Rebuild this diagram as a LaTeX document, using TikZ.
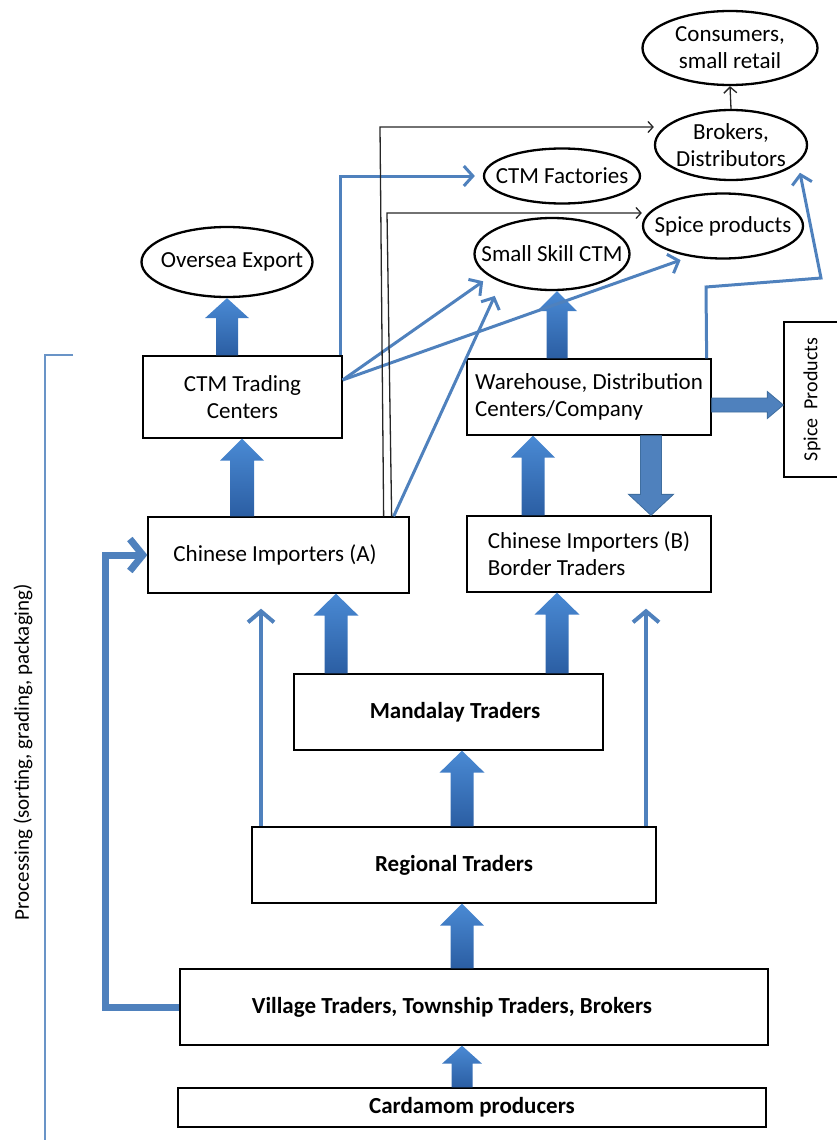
\documentclass[tikz,border=0pt]{standalone}
\usepackage{fontspec}
\usepackage{graphicx}
\setmainfont{Carlito}
\frenchspacing
\usetikzlibrary{shapes.geometric,arrows.meta,calc}
\definecolor{ofblue}{HTML}{4F81BD}
\definecolor{blkl}{HTML}{4A8AD4}
\definecolor{blkd}{HTML}{2B5EA3}
\definecolor{flatline}{HTML}{3F6E9F}
% vertical block arrow: #1 style, #2 x-ref, #3 from, #4 to, #5 half shaft, #6 half head, #7 signed head length
\newcommand\blkv[7]{%
  \path[#1] let \p1=(#3 -| #2), \p2=(#4 -| #2) in
    ({\x1-#5},\y1) -- ({\x1-#5},{\y2-(#7)}) -- ({\x1-#6},{\y2-(#7)}) -- (\x1,\y2)
    -- ({\x1+#6},{\y2-(#7)}) -- ({\x1+#5},{\y2-(#7)}) -- ({\x1+#5},\y1) -- cycle;}
% horizontal block arrow
\newcommand\blkh[7]{%
  \path[#1] let \p1=(#3 |- #2), \p2=(#4 |- #2) in
    (\x1,{\y1-#5}) -- ({\x2-(#7)},{\y1-#5}) -- ({\x2-(#7)},{\y1-#6}) -- (\x2,\y1)
    -- ({\x2-(#7)},{\y1+#6}) -- ({\x2-(#7)},{\y1+#5}) -- (\x1,{\y1+#5}) -- cycle;}
\begin{document}
\begin{tikzpicture}[x=1pt,y=-1pt,
  box/.style={draw, line width=1.3pt, rectangle, inner sep=0pt, align=center,
    font=\fontsize{23}{27}\selectfont},
  bbox/.style={box, font=\fontsize{23}{27}\selectfont\bfseries},
  oval/.style={draw, line width=2.3pt, ellipse, inner sep=0pt},
  otext/.style={font=\fontsize{23}{27}\selectfont, align=center, inner sep=0pt},
  blk/.style={top color=blkl, bottom color=blkd, draw=none},
  flat/.style={fill=ofblue, draw=flatline, line width=0.8pt},
  thinb/.style={draw=ofblue, line width=3pt, -{Straight Barb[length=9pt,width=20pt]}},
  thinbig/.style={draw=ofblue, line width=4pt, -{Straight Barb[length=11pt,width=26pt]}},
  thickb/.style={draw=ofblue, line width=7pt, -{Straight Barb[length=13pt,width=32pt]}},
  thinblk/.style={draw=black!85, line width=1.3pt, -{Straight Barb[length=5pt,width=11pt]}},
  bracket/.style={draw=ofblue!85, line width=1.5pt}
]
\useasboundingbox (0,0) rectangle (837,1140);

% ellipses
\node[oval, minimum width=175pt, minimum height=74pt,
  label={[otext]center:{Consumers,\\small retail}}] (cons) at (730,48) {};
\node[oval, minimum width=152pt, minimum height=70pt,
  label={[otext]center:{Brokers,\\Distributors}}] (brok) at (731,145) {};
\node[oval, minimum width=156pt, minimum height=55pt,
  label={[otext]center:CTM Factories}] (fact) at (562,176) {};
\node[oval, minimum width=160pt, minimum height=65pt,
  label={[otext]center:Spice products}] (spice) at (723,226) {};
\node[oval, minimum width=155pt, minimum height=72pt,
  label={[otext]center:Small Skill CTM}] (skill) at (552,254) {};
\node[oval, minimum width=171pt, minimum height=70pt,
  label={[otext,xshift=5pt]center:Oversea Export}] (over) at (227,262) {};

% boxes
\node[box, minimum width=199pt, minimum height=82pt] (ctm) at (242.5,397) {CTM Trading\\Centers};
\node[box, minimum width=261pt, minimum height=76pt] (chA) at (278.5,555) {\hspace*{-7pt}Chinese Importers (A)};
\node[box, minimum width=244pt, minimum height=76pt, align=left]
  (ware) at (589,397) {Warehouse, Distribution\\Centers/Company};
\node[box, minimum width=244pt, minimum height=76pt, align=left]
  (chB) at (589,554) {Chinese Importers (B)\\Border Traders};
\node[box, minimum width=56pt, minimum height=155pt] (spP) at (812,399.5)
  {\rotatebox{90}{\fontsize{20}{24}\selectfont Spice\ \ Products}};
\node[bbox, minimum width=309pt, minimum height=76pt] (mand) at (448.5,712) {\hspace*{13pt}Mandalay Traders};
\node[bbox, minimum width=404pt, minimum height=76pt] (reg) at (454,865) {Regional Traders};
\node[bbox, minimum width=588pt, minimum height=76pt]
  (vil) at (474,1007) {\hspace*{-44pt}Village Traders, Township Traders, Brokers};
\node[bbox, minimum width=588pt, minimum height=39pt] (card) at (472,1107.5) {Cardamom producers};

% side label and bracket
\node[font=\fontsize{21}{25}\selectfont, rotate=90] (proc) at (23,752) {Processing (sorting, grading, packaging)};
\coordinate (br1) at (73,355);
\coordinate (br2) at (45,355);
\coordinate (br3) at (45,1142);
\draw[bracket] (br1) -- (br2) -- (br3);

% reference coordinates for block arrows
\coordinate (xo) at (227,0);
\coordinate (xc) at (242,0);
\coordinate (xs) at (557,0);
\coordinate (xb) at (533,0);
\coordinate (xd) at (651,0);
\coordinate (yr) at (0,405);
\coordinate (xm1) at (336,0);
\coordinate (xm2) at (557,0);
\coordinate (xg) at (462,0);

\blkv{blk}{xo}{ctm.north}{over.south}{11pt}{22pt}{20pt}
\blkv{blk}{xc}{chA.north}{ctm.south}{12pt}{22pt}{22pt}
\blkv{blk}{xs}{ware.north}{skill.south}{10.5pt}{20pt}{20pt}
\blkv{blk}{xb}{chB.north}{ware.south}{11.5pt}{22pt}{22pt}
\blkv{flat}{xd}{ware.south}{chB.north}{10.5pt}{22.5pt}{-21pt}
\blkh{flat}{yr}{ware.east}{spP.west}{7pt}{13.5pt}{16pt}
\blkv{blk}{xm1}{mand.north}{chA.south}{11.5pt}{22.5pt}{22pt}
\blkv{blk}{xm2}{mand.north}{chB.south}{11.5pt}{22.5pt}{22pt}
\blkv{blk}{xg}{reg.north}{mand.south}{11.5pt}{22.5pt}{22pt}
\blkv{blk}{xg}{vil.north}{reg.south}{11.5pt}{22pt}{22pt}
\blkv{blk}{xg}{card.north}{vil.south}{10.5pt}{20pt}{18pt}

% thin blue connectors
\coordinate (xr1) at (261,0);
\coordinate (xr2) at (646,0);
\coordinate (xv) at (105,0);
\coordinate (w1) at (706,287);
\coordinate (w2) at (821,278);
\draw[thinb] ([xshift=-2pt]ctm.north east) |- ([xshift=-8pt]fact.west);
\draw[thinb, shorten >=8pt] ([yshift=17pt]ctm.east) -- (skill.200);
\draw[thinb, shorten >=10pt] ([yshift=17pt]ctm.east) -- (spice.223);
\draw[thinb, shorten >=15pt] ([xshift=-16pt]chA.north east) -- (skill.209);
\draw[thinb, shorten >=10pt] ([xshift=-5pt]ware.north east) -- (w1) -- (w2) -- (brok.345);
\draw[thinbig, shorten >=15pt] (reg.north -| xr1) -- (chA.south -| xr1);
\draw[thinbig, shorten >=16pt] (reg.north -| xr2) -- (chB.south -| xr2);
\draw[thickb] (vil.west) -- (vil.west -| xv) |- (chA.west);

% thin black connectors
\coordinate (k1) at (380,127);
\coordinate (k2) at (387,213);
\draw[thinblk] ([xshift=-26pt]chA.north east) -- (k1) -- (brok.west |- k1);
\draw[thinblk] ([xshift=-18pt]chA.north east) -- (k2) -- (spice.west |- k2);
\draw[thinblk, -{Straight Barb[length=6pt,width=13pt]}] (brok.north) -- (cons.south);
\end{tikzpicture}
\end{document}
